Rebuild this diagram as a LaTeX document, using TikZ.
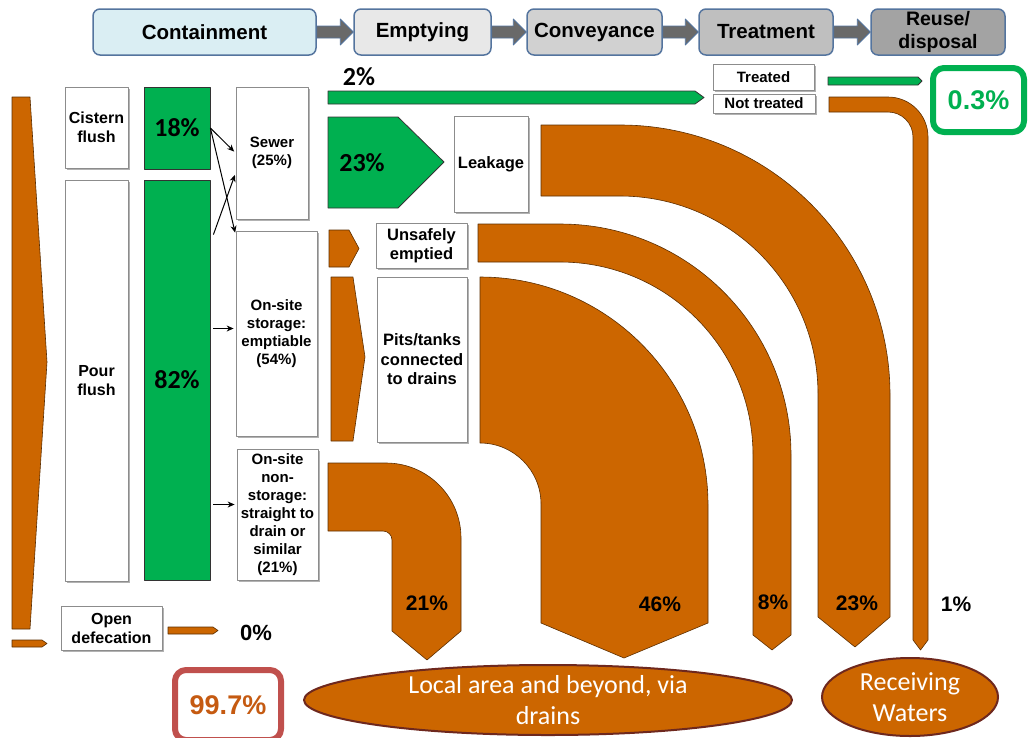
\documentclass[tikz,border=0pt]{standalone}
\usepackage{fontspec}
\setmainfont{Liberation Sans}
\newfontfamily\carlito{Carlito}
\usetikzlibrary{shapes.geometric,shadows,arrows.meta,calc}

\definecolor{flow}{RGB}{204,102,0}
\definecolor{safe}{RGB}{0,176,80}
\definecolor{frameblue}{RGB}{84,116,158}
\definecolor{arrowgrey}{RGB}{105,105,105}
\definecolor{redframe}{RGB}{192,80,77}
\definecolor{redtext}{RGB}{197,90,17}
\definecolor{rim}{RGB}{110,40,30}
\definecolor{paleblue}{RGB}{218,238,243}

\tikzset{
  stage/.style={draw=frameblue, line width=1.5pt, rounded corners=7pt, minimum height=46pt, inner sep=0pt, align=center, font=\bfseries\fontsize{20.5}{23}\selectfont},
  stagearrow/.style={fill=arrowgrey, draw=frameblue, line width=0.8pt},
  lbox/.style={draw=black!45, fill=white, line width=0.8pt, inner sep=0pt, align=center, drop shadow={shadow xshift=2pt, shadow yshift=-2pt, fill=black, opacity=0.3}},
  small/.style={font=\bfseries\fontsize{15}{18}\selectfont},
  mid/.style={font=\bfseries\fontsize{16.5}{19.5}\selectfont},
  gbox/.style={fill=safe, draw=black!80, line width=0.8pt, inner sep=0pt, font=\carlito\bfseries\fontsize{26}{30}\selectfont},
  gshape/.style={fill=safe, draw=black!80, line width=0.8pt},
  flowshape/.style={fill=flow, draw=black!55!flow, line width=0.6pt},
  pct/.style={font=\bfseries\fontsize{21}{24}\selectfont},
  pctc/.style={font=\carlito\bfseries\fontsize{26}{30}\selectfont},
  link/.style={-{Stealth[length=7pt,width=6pt]}, line width=1pt, shorten >=2pt},
  sink/.style={ellipse, fill=flow, draw=rim, line width=2pt, inner sep=0pt, text=white, align=center, font=\carlito\fontsize{26}{31}\selectfont},
  total/.style={line width=6pt, rounded corners=11pt, fill=white, inner sep=0pt, font=\bfseries\fontsize{27}{30}\selectfont}
}

\newcommand\stagelink[2]{%
  \filldraw[stagearrow] ($(#1.east)+(0,-6)$) -- ($(#2.west)+(-13,-6)$) -- ($(#2.west)+(-13,-13)$) -- (#2.west)
    -- ($(#2.west)+(-13,13)$) -- ($(#2.west)+(-13,6)$) -- ($(#1.east)+(0,6)$) -- cycle;}

\begin{document}
\begin{tikzpicture}[x=1pt, y=-1pt, line join=round]
\useasboundingbox (0,0) rectangle (1030,737);
\clip (0,0) rectangle (1030,737);

\node[stage, fill=paleblue, minimum width=223pt] (cont) at (204.5,32) {Containment};
\node[stage, fill=black!9, minimum width=137pt] (emp) at (422.5,32) {Emptying};
\node[stage, fill=black!18, minimum width=135pt] (conv) at (594.5,32) {Conveyance};
\node[stage, fill=black!25, minimum width=134pt] (treat) at (766,32) {Treatment};
\node[stage, fill=black!36, minimum width=134pt, font=\bfseries\fontsize{19.5}{23}\selectfont] (reuse) at (938,32) {Reuse/\\disposal};
\stagelink{cont}{emp}
\stagelink{emp}{conv}
\stagelink{conv}{treat}
\stagelink{treat}{reuse}

\filldraw[flowshape] (12,97) -- (30,97) -- (47,362) -- (30,629) -- (12,629) -- cycle;
\filldraw[flowshape] (12,640) -- (42,640) -- (47,643.5) -- (42,647) -- (12,647) -- cycle;

\node[lbox, font=\bfseries\fontsize{16}{19}\selectfont, minimum width=63pt, minimum height=81pt] (cis) at (96.5,127.5) {Cistern\\flush};
\node[lbox, font=\bfseries\fontsize{16}{19}\selectfont, minimum width=63pt, minimum height=401pt] (pour) at (96.5,380.5) {Pour\\flush};
\node[gbox, minimum width=66pt, minimum height=82pt] (g18) at (177,128) {18\%};
\node[gbox, minimum width=66pt, minimum height=400pt] (g82) at (177,380) {82\%};
\node[lbox, small, minimum width=72pt, minimum height=132pt] (sewer) at (272,153) {Sewer\\(25\%)};
\node[lbox, small, minimum width=81pt, minimum height=205pt] (stor) at (276.5,333.5) {On-site\\storage:\\emptiable\\(54\%)};
\node[lbox, small, minimum width=81pt, minimum height=131pt] (nonstor) at (277.5,514.5) {On-site\\non-\\storage:\\straight to\\drain or\\similar\\(21\%)};
\node[lbox, font=\bfseries\fontsize{16}{19}\selectfont, minimum width=101pt, minimum height=44pt] (open) at (111.5,628) {Open\\defecation};

\draw[link] (g18.east) -- (sewer.west);
\draw[link] (g18.east) -- ($(stor.north west)+(0,4)$);
\draw[link] ($(g82.north east)+(3,55)$) -- ($(sewer.west)+(0,20)$);
\draw[link] ($(g82.east |- stor.west)+(3,-5)$) -- ($(stor.west)+(0,-5)$);
\draw[link] ($(g82.east |- nonstor.west)+(3,-10)$) -- ($(nonstor.west)+(0,-10)$);

\filldraw[flowshape] (168,627) -- (213,627) -- (218,630.5) -- (213,634) -- (168,634) -- cycle;
\node[font=\bfseries\fontsize{22}{24}\selectfont] (p0) at (256,633) {0\%};

\node[pctc] (p2) at (359,77) {2\%};
\filldraw[gshape] (328,91) -- (695,91) -- (704,97.5) -- (695,104) -- (328,104) -- cycle;
\filldraw[gshape] (328,117) -- (398,117) -- (444,162) -- (398,208) -- (328,208) -- cycle;
\node[pctc] (p23g) at (362,163) {23\%};
\filldraw[flowshape] (329,230) -- (349,230) -- (359,248.5) -- (349,267) -- (329,267) -- cycle;
\filldraw[flowshape] (331,277) -- (353,277) -- (365,357) -- (353,441) -- (331,441) -- cycle;

\node[lbox, mid, minimum width=74pt, minimum height=96pt] (leak) at (491,164) {Leakage};
\node[lbox, mid, minimum width=91pt, minimum height=45pt] (unsafe) at (421.5,245.5) {Unsafely\\emptied};
\node[lbox, mid, minimum width=90pt, minimum height=165pt] (pits) at (422,359.5) {Pits/tanks\\connected\\to drains};

\filldraw[flowshape] (541,125) -- (620,125) arc[start angle=-90, end angle=0, radius=270] -- (890,617) -- (855,647) -- (818,617)
  -- (818,394) arc[start angle=0, end angle=-90, radius=198] -- (541,196) -- cycle;
\filldraw[flowshape] (478,224) -- (560,224) arc[start angle=-90, end angle=0, radius=231] -- (791,635) -- (772,650) -- (753,635)
  -- (753,455) arc[start angle=0, end angle=-90, radius=193] -- (478,262) -- cycle;
\filldraw[flowshape] (480,277) arc[start angle=-90, end angle=0, radius=228] -- (708,623) -- (624,658) -- (541,623)
  -- (541,504) arc[start angle=0, end angle=-90, radius=61] -- cycle;
\filldraw[flowshape] (328,463) -- (386,463) arc[start angle=-90, end angle=0, radius=75] -- (461,631) -- (427,660) -- (392,631)
  -- (392,540) arc[start angle=0, end angle=-90, radius=9] -- (328,531) -- cycle;

\node[lbox, small, minimum width=101pt, minimum height=26pt] (treated) at (763.5,77) {Treated};
\node[lbox, small, minimum width=102pt, minimum height=19pt] (nottr) at (764,103.5) {Not treated};
\filldraw[gshape] (828,77) -- (918,77) -- (922,81) -- (918,85) -- (828,85) -- cycle;
\filldraw[flowshape] (829,97) -- (888,97) arc[start angle=-90, end angle=0, radius=40] -- (928,640) -- (920.5,650) -- (913,640)
  -- (913,137) arc[start angle=0, end angle=-90, radius=25] -- (829,112) -- cycle;

\node[total, draw=safe, text=safe, minimum width=91pt, minimum height=64pt] (r03) at (978.5,100) {0.3\%};
\node[total, draw=redframe, text=redtext, minimum width=106pt, minimum height=70pt] (r997) at (228,705) {99.7\%};

\node[pct] (p21) at (427,603) {21\%};
\node[pct] (p46) at (660,604) {46\%};
\node[pct] (p8) at (773,602) {8\%};
\node[pct] (p23) at (857,603) {23\%};
\node[pct] (p1) at (956,604) {1\%};

\node[sink, minimum width=488pt, minimum height=70pt] (local) at (548,700) {Local area and beyond, via\\drains};
\node[sink, minimum width=176pt, minimum height=78pt] (recv) at (910,697) {Receiving\\Waters};
\end{tikzpicture}
\end{document}
